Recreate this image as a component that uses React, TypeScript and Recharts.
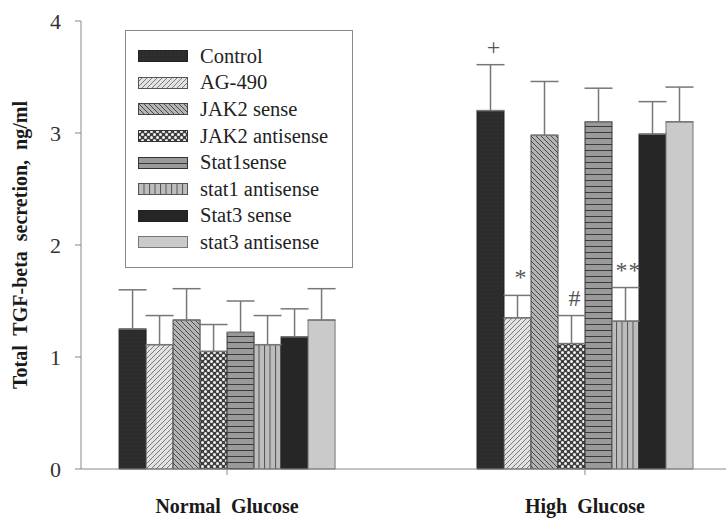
import React from 'react';
import { BarChart, Bar, XAxis, YAxis, ErrorBar, LabelList, Legend } from 'recharts';

// group names on the x axis
const groups = ['Normal Glucose', 'High Glucose'];

// treatments (one bar each per group)
const treatments = [
  'Control',
  'AG-490',
  'JAK2 sense',
  'JAK2 antisense',
  'Stat1sense',
  'stat1 antisense',
  'Stat3 sense',
  'stat3 antisense',
];

// means and SDs, ng/ml
const normalMeans = [1.25, 1.11, 1.33, 1.05, 1.22, 1.11, 1.18, 1.33];
const normalSd = [0.35, 0.26, 0.28, 0.24, 0.28, 0.26, 0.25, 0.28];
const highMeans = [3.2, 1.35, 2.98, 1.12, 3.1, 1.32, 2.99, 3.1];
const highSd = [0.41, 0.2, 0.48, 0.25, 0.3, 0.3, 0.29, 0.31];

// significance marks above the high glucose bars
const highMarks = ['+', '*', '', '#', '', '**', '', ''];

const yTicks = [0, 1, 2, 3, 4];

const FONT = '"Liberation Serif", "Times New Roman", serif';

const patternIds = ['pCtl', 'pAg', 'pJs', 'pJa', 'pS1s', 'pS1a', 'pS3s', 'pS3a'];
const strokes = ['#222', '#555', '#444', '#333', '#333', '#555', '#222', '#777'];

const rows = groups.map((g, gi) => {
  const row: Record<string, any> = { pos: gi + 1, group: g };
  treatments.forEach((_, i) => {
    row[`m${i}`] = gi === 0 ? normalMeans[i] : highMeans[i];
    row[`e${i}`] = [0, gi === 0 ? normalSd[i] : highSd[i]];
    row[`k${i}`] = gi === 0 ? '' : highMarks[i];
    row[`s${i}`] = gi === 0 ? normalSd[i] : highSd[i];
  });
  return row;
});

const Patterns = () => (
  <defs>
    <pattern id="pCtl" patternUnits="userSpaceOnUse" width="4" height="4">
      <rect width="4" height="4" fill="#2c2c2c" />
      <rect x="1" y="1" width="1" height="1" fill="#383838" />
    </pattern>
    <pattern id="pAg" patternUnits="userSpaceOnUse" width="5" height="5">
      <rect width="5" height="5" fill="#e2e2e2" />
      <path d="M0,5 L5,0 M-1,1 L1,-1 M4,6 L6,4" stroke="#7a7a7a" strokeWidth="1" />
    </pattern>
    <pattern id="pJs" patternUnits="userSpaceOnUse" width="5" height="5">
      <rect width="5" height="5" fill="#b4b4b4" />
      <path d="M0,0 L5,5 M-1,4 L1,6 M4,-1 L6,1" stroke="#4a4a4a" strokeWidth="1" />
    </pattern>
    <pattern id="pJa" patternUnits="userSpaceOnUse" width="6" height="6">
      <rect width="6" height="6" fill="#3e3e3e" />
      <circle cx="1.5" cy="1.5" r="1.5" fill="#f2f2f2" />
      <circle cx="4.5" cy="4.5" r="1.5" fill="#f2f2f2" />
    </pattern>
    <pattern id="pS1s" patternUnits="userSpaceOnUse" width="4" height="6">
      <rect width="4" height="6" fill="#9a9a9a" />
      <path d="M0,0.5 H4" stroke="#3a3a3a" strokeWidth="1" />
    </pattern>
    <pattern id="pS1a" patternUnits="userSpaceOnUse" width="5.5" height="4">
      <rect width="5.5" height="4" fill="#bdbdbd" />
      <path d="M0.5,0 V4" stroke="#555" strokeWidth="1" />
    </pattern>
    <pattern id="pS3s" patternUnits="userSpaceOnUse" width="4" height="4">
      <rect width="4" height="4" fill="#262626" />
    </pattern>
    <pattern id="pS3a" patternUnits="userSpaceOnUse" width="4" height="4">
      <rect width="4" height="4" fill="#cacaca" />
    </pattern>
  </defs>
);

// legend keeps the series order of the figure (recharts sorts its payload)
const renderLegend = () => (
  <div
    style={{
      boxSizing: 'border-box',
      width: 228,
      height: 238,
      border: '1px solid #8a8a8a',
      background: '#fff',
      paddingTop: 12,
      fontFamily: FONT,
      fontSize: 20.5,
      color: '#222',
    }}
  >
    {treatments.map((name, i) => (
      <div key={name} style={{ display: 'flex', alignItems: 'center', height: 26.6 }}>
        <svg width={50} height={12} style={{ marginLeft: 12, marginRight: 12, flex: 'none' }}>
          <rect x={0.5} y={0.5} width={49} height={11} fill={`url(#${patternIds[i]})`} stroke={strokes[i]} />
        </svg>
        <span style={{ whiteSpace: 'nowrap' }}>{name}</span>
      </div>
    ))}
  </div>
);

const markRenderer = (i: number) => (props: any) => {
  const { x, y, width, height, index } = props;
  const mark = rows[index]?.[`k${i}`];
  if (!mark) return null;
  const val = rows[index][`m${i}`];
  const sd = rows[index][`s${i}`];
  const errTop = y - (sd * height) / val;
  return (
    <text
      x={x + width / 2 + 3}
      y={errTop - 18}
      textAnchor="middle"
      dominantBaseline="central"
      fontFamily={FONT}
      fontSize={24}
      fill="#555"
      letterSpacing={mark.length > 1 ? 1 : 0}
    >
      {mark}
    </text>
  );
};

export default function App() {
  return (
    <div style={{ position: 'absolute', left: 0, top: 0, background: '#fff' }}>
      <BarChart
        width={726}
        height={518}
        data={rows}
        margin={{ top: 21, right: 0, bottom: 0, left: 0 }}
        barGap={0}
      >
        <Patterns />
        <XAxis
          type="number"
          dataKey="pos"
          domain={[0.592, 2.394]}
          ticks={[1, 2]}
          interval={0}
          height={49}
          tickSize={6}
          tickMargin={24}
          tickFormatter={(v: number) => (groups[v - 1] || '').replace(' ', '\u00A0 ')}
          stroke="#888"
          tick={{ fontFamily: FONT, fontSize: 20, fontWeight: 'bold', fill: '#1a1a1a' }}
        />
        <YAxis
          type="number"
          domain={[0, 4]}
          ticks={yTicks}
          width={81}
          tickSize={6}
          tickMargin={14}
          stroke="#888"
          tick={{ fontFamily: FONT, fontSize: 22, fill: '#333' }}
          label={{
            value: 'Total\u00A0 TGF-beta\u00A0 secretion,\u00A0 ng/ml',
            angle: -90,
            position: 'insideLeft',
            offset: 20,
            style: {
              textAnchor: 'middle',
              fontFamily: FONT,
              fontSize: 20,
              fontWeight: 'bold',
              fill: '#1a1a1a',
            },
          }}
        />
        <Legend
          layout="vertical"
          align="center"
          verticalAlign="middle"
          wrapperStyle={{ left: 125, top: 30, width: 228, height: 238 }}
          content={renderLegend}
        />
        {treatments.map((name, i) => (
          <Bar
            key={name}
            dataKey={`m${i}`}
            name={name}
            barSize={27}
            fill={`url(#${patternIds[i]})`}
            stroke={strokes[i]}
            strokeWidth={1}
            isAnimationActive={false}
          >
            <ErrorBar dataKey={`e${i}`} width={14} stroke="#777" strokeWidth={1.5} direction="y" />
            <LabelList dataKey={`m${i}`} content={markRenderer(i)} />
          </Bar>
        ))}
      </BarChart>
    </div>
  );
}
